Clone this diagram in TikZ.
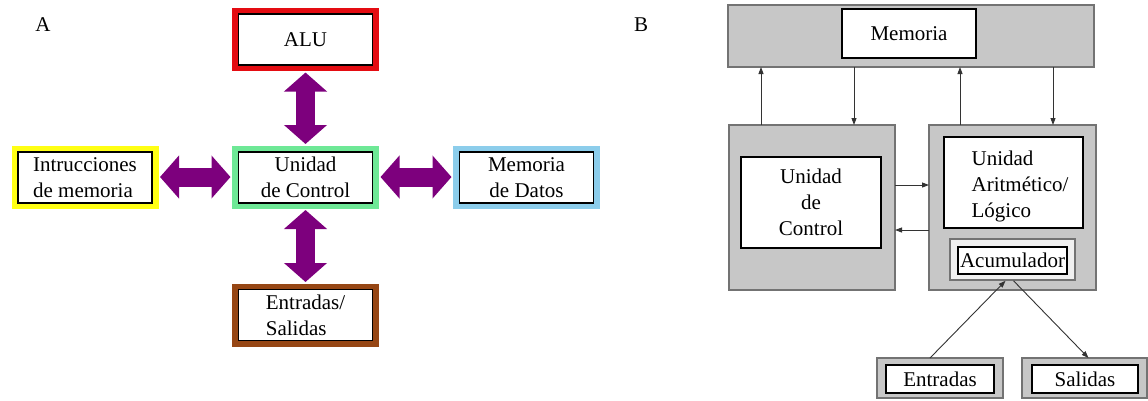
\documentclass[tikz,border=0pt]{standalone}
\usepackage{fontspec}
\setmainfont{Liberation Serif}
\usetikzlibrary{arrows.meta}
\definecolor{aRed}{RGB}{228,12,18}
\definecolor{aGreen}{RGB}{110,232,150}
\definecolor{aYellow}{RGB}{255,255,20}
\definecolor{aBlue}{RGB}{140,205,235}
\definecolor{aBrown}{RGB}{150,70,20}
\definecolor{aPurple}{RGB}{125,0,125}
\tikzset{
  frameA/.style={fill=#1, draw=none, minimum width=147pt, minimum height=63pt, inner sep=0pt, outer sep=0pt},
  boxA/.style={fill=white, draw=black, line width=1.3pt, minimum width=134pt, minimum height=51pt, inner sep=0pt, align=center},
  dbl/.style={draw=aPurple, line width=19pt, {Triangle[width=42pt,length=19pt]}-{Triangle[width=42pt,length=19pt]}, shorten >=1.5pt, shorten <=1.5pt},
  grayB/.style={fill=black!22, draw=black!55, line width=2pt, inner sep=0pt, outer sep=0pt},
  whiteB/.style={fill=white, draw=black, line width=1.2pt, inner sep=0pt, align=center},
  arrB/.style={draw=black!80, line width=0.9pt, -{Triangle[length=7pt,width=5pt]}}
}
\begin{document}
\begin{tikzpicture}[x=1pt,y=-1pt,font=\fontsize{21}{26}\selectfont]
\useasboundingbox (0,0) rectangle (1148,400);
% ---------- Part A ----------
\node (labA) at (43,25) {A};
\node[frameA=aRed] (aluF) at (305.5,39.5) {};
\node[boxA] (alu) at (305.5,39.5) {ALU};
\node[frameA=aGreen] (ctlF) at (305.5,177) {};
\node[boxA] (ctl) at (305.5,177.5) {Unidad\\de Control};
\node[frameA=aYellow] (insF) at (85,177) {};
\node[boxA,align=left] (ins) at (85,177.5) {Intrucciones\\de memoria};
\node[frameA=aBlue] (memF) at (526.5,177) {};
\node[boxA] (mem) at (526.5,177.5) {Memoria\\de Datos};
\node[frameA=aBrown] (esF) at (305.5,315) {};
\node[boxA,align=left] (es) at (305.5,315) {Entradas/\\Salidas};
\draw[dbl] (aluF) -- (ctlF);
\draw[dbl] (ctlF) -- (esF);
\draw[dbl] (insF) -- (ctlF);
\draw[dbl] (ctlF) -- (memF);
% ---------- Part B ----------
\node (labB) at (641,25) {B};
\node[grayB, minimum width=366pt, minimum height=62pt] (memB) at (911,36) {};
\node[whiteB, minimum width=134pt, minimum height=49pt] (memBox) at (909,33.5) {Memoria};
\node[grayB, minimum width=166pt, minimum height=165pt] (ctlB) at (812,207.5) {};
\node[whiteB, minimum width=140pt, minimum height=91pt] (ctlBox) at (811,202.5) {Unidad\\de\\Control};
\node[grayB, minimum width=167pt, minimum height=165pt] (aluB) at (1012.5,207.5) {};
\node[whiteB, minimum width=139pt, minimum height=91pt] (aluBox) at (1013.5,182.5) {};
\node[align=left, inner sep=0pt] (aluTxt) at (1020,186) {Unidad\\Aritmético/\\Lógico};
\node[fill=black!6, draw=black!55, line width=1.5pt, minimum width=125pt, minimum height=41pt, inner sep=0pt] (accF) at (1012.5,259.5) {};
\node[whiteB, minimum width=109pt, minimum height=27pt] (acc) at (1012.5,260.5) {Acumulador};
\node[grayB, minimum width=126pt, minimum height=40pt] (entF) at (940,378) {};
\node[whiteB, minimum width=108pt, minimum height=28pt] (ent) at (940,379) {Entradas};
\node[grayB, minimum width=125pt, minimum height=40pt] (salF) at (1084.5,378) {};
\node[whiteB, minimum width=106pt, minimum height=28pt] (sal) at (1085,379) {Salidas};
% arrows memory <-> units
\draw[arrB] ([xshift=32pt]ctlB.north west) -- ([xshift=32pt]ctlB.north west |- memB.south);
\draw[arrB] ([xshift=125pt]ctlB.north west |- memB.south) -- ([xshift=125pt]ctlB.north west);
\draw[arrB] ([xshift=31pt]aluB.north west) -- ([xshift=31pt]aluB.north west |- memB.south);
\draw[arrB] ([xshift=124pt]aluB.north west |- memB.south) -- ([xshift=124pt]aluB.north west);
% control <-> alu
\draw[arrB] (ctlB.east |- 0,185) -- (aluB.west |- 0,185);
\draw[arrB] (aluB.west |- 0,230) -- (ctlB.east |- 0,230);
% I/O
\draw[arrB] ([xshift=-10pt]entF.north) -- ([xshift=-7pt]accF.south);
\draw[arrB] ([xshift=1pt]accF.south) -- ([xshift=4pt]salF.north);
\end{tikzpicture}
\end{document}
